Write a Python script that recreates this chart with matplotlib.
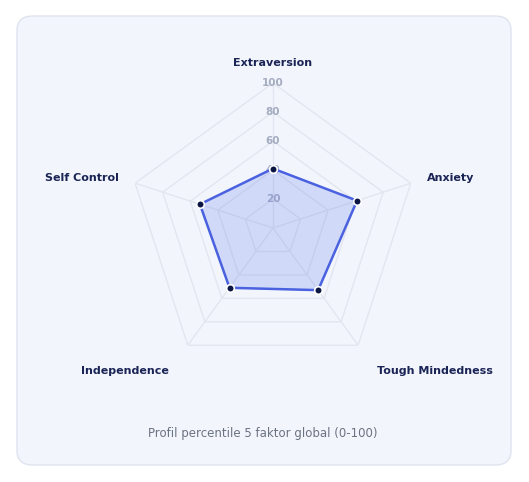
import numpy as np
import matplotlib.pyplot as plt
from matplotlib.patches import FancyBboxPatch

categories = ["Extraversion", "Anxiety", "Tough Mindedness", "Independence", "Self Control"]
values = [41, 61, 53, 51, 53]
rings = [20, 40, 60, 80, 100]
caption = "Profil percentile 5 faktor global (0-100)"

fig = plt.figure(figsize=(5.29, 4.82), dpi=100)
fig.patch.set_facecolor("white")
card = FancyBboxPatch((17/529, 17/482), 494/529, 449/482, boxstyle="round,pad=0,rounding_size=0.03",
                      transform=fig.transFigure, facecolor="#f3f5fd", edgecolor="#dfe3ee", lw=1,
                      zorder=-5)
fig.patches.append(card)

ax = fig.add_axes([0.242, 0.226, 0.548, 0.602], projection="polar")
ax.set_zorder(1)
ax.patch.set_alpha(0)
ax.set_theta_offset(np.pi/2)
ax.set_theta_direction(-1)
ax.set_ylim(0, 100)
ax.grid(False)
ax.spines["polar"].set_visible(False)
ax.set_xticks([]); ax.set_yticks([])

n = len(categories)
ang = np.linspace(0, 2*np.pi, n, endpoint=False)
closed = np.append(ang, ang[0])
for r in rings:
    ax.plot(closed, [r]*(n+1), color="#e3e6ee", lw=1, zorder=1)
for a in ang:
    ax.plot([a, a], [0, 100], color="#e3e6ee", lw=1, zorder=1)
for r in rings:
    ax.text(0, r, str(r), ha="center", va="center", fontsize=7.5, color="#a4acc0",
            fontweight="bold", zorder=2)

v = np.append(values, values[0])
ax.fill(closed, v, color="#6f86ee", alpha=0.25, zorder=3)
ax.plot(closed, v, color="#4a62e0", lw=1.8, zorder=4)
ax.scatter(ang, values, s=30, color="#0b1645", edgecolors="white", linewidths=1.2, zorder=5)

for a, c in zip(ang, categories):
    if np.isclose(a, 0):
        ha, rr = "center", 114
    elif a < np.pi:
        ha, rr = "left", 112
    else:
        ha, rr = "right", 112
    if 1.5 < a < 4.8:
        rr = 122
    ax.text(a, rr, c, ha=ha, va="center", fontsize=8, fontweight="bold", color="#1a2455",
            clip_on=False)
fig.text(263/529, 1-434/482, caption, ha="center", va="center", fontsize=8.5, color="#6b7280")
fig.savefig("out.png", dpi=100)
